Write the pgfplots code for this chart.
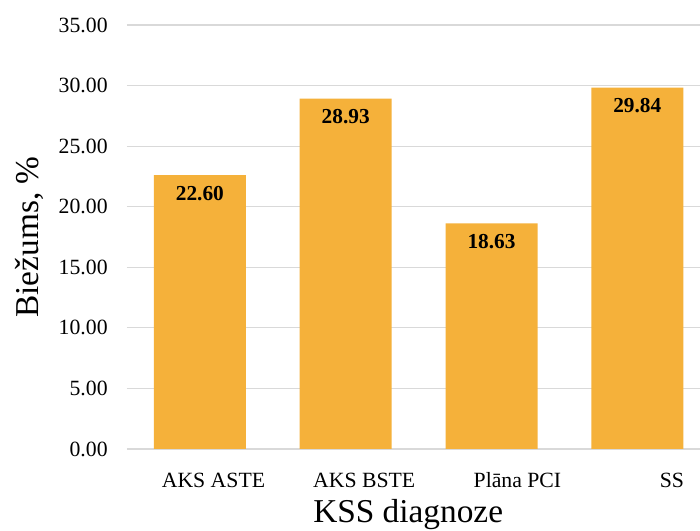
\documentclass[border=0pt]{standalone}
\usepackage{pgfplots}
\pgfplotsset{compat=1.18}
\usepackage{fontspec}
\setmainfont{Liberation Serif}
\definecolor{barorange}{HTML}{F5B13A}
\definecolor{gridgray}{HTML}{D9D9D9}
\begin{document}
\begin{tikzpicture}
\begin{axis}[
  scale only axis,
  width=429.75pt, height=318pt,
  xmin=-0.5, xmax=3.43,
  ymin=0, ymax=35,
  ytick={0,5,...,35},
  xtick={0.093,1.127,2.178,3.237},
  xticklabels={AKS ASTE, AKS BSTE, Plāna PCI, SS},
  axis line style={draw=none},
  major tick length=0pt,
  ymajorgrids, xmajorgrids=false,
  grid style={gridgray, line width=0.9pt},
  /pgf/number format/.cd, fixed, fixed zerofill, precision=2, assume math mode=true,
  /pgfplots/.cd,
  tick label style={font=\fontsize{16.3}{19.5}\selectfont},
  yticklabel style={xshift=-11pt},
  xticklabel style={text height=11pt, text depth=3pt, yshift=-14pt},
  xlabel={KSS diagnoze},
  ylabel={Biežums, \%},
  label style={font=\fontsize{25}{30}\selectfont},
  xlabel style={at={(axis description cs:0.4907,-0.1745)}, anchor=base},
  ylabel style={at={(axis description cs:-0.155,0.5)}, anchor=base, rotate=0},
  ybar, bar width=69pt,
  nodes near coords,
  nodes near coords style={anchor=north, inner sep=0pt, yshift=-8pt, font=\fontsize{16}{19.2}\selectfont\bfseries, text=black},
]
\addplot[fill=barorange, draw=none] coordinates {(0,22.60) (1,28.93) (2,18.63) (3,29.84)};
\coordinate (bl) at (rel axis cs:0,0);
\end{axis}
\pgfresetboundingbox
\path[use as bounding box] ([shift={(-95.25pt,-61.5pt)}]bl) rectangle ([shift={(429.75pt,336.75pt)}]bl);
\end{tikzpicture}
\end{document}
